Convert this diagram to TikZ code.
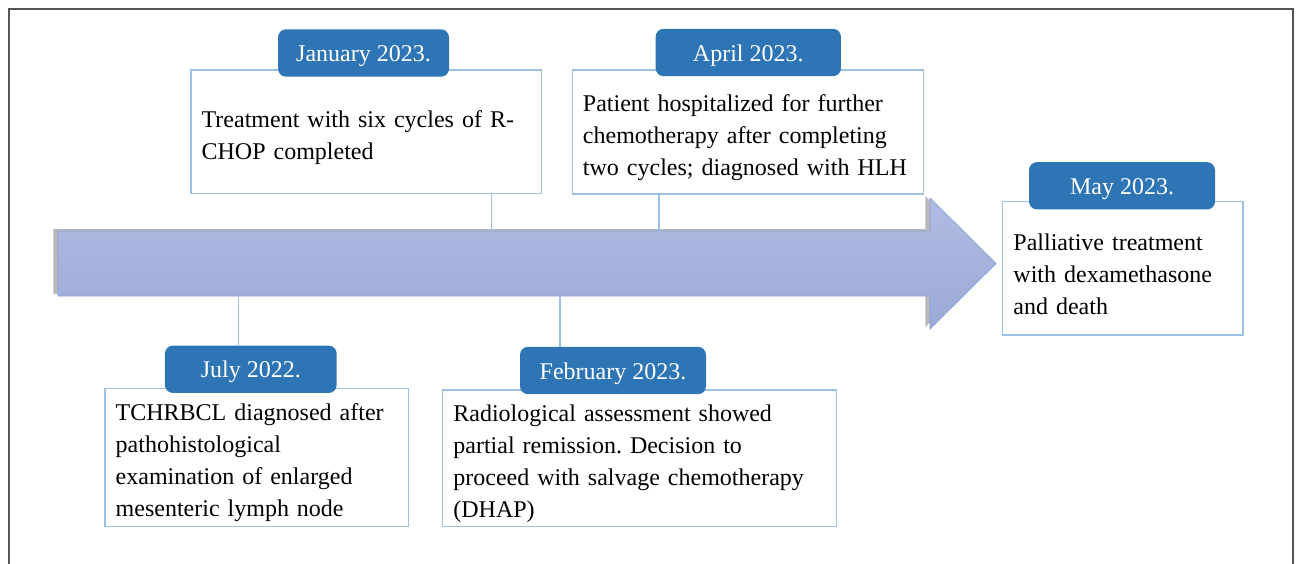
\documentclass[tikz,border=0pt]{standalone}
\usepackage{fontspec}
\setmainfont{Liberation Serif}
\usepackage{tikz}
\usetikzlibrary{shadows}
\frenchspacing

\begin{document}
\begin{tikzpicture}[x=0.75pt,y=0.75pt,yscale=-1,
  eventbox/.style={draw={rgb,255:red,155;green,194;blue,230}, line width=1pt, fill=white,
    align=left, inner xsep=8pt, inner ysep=2pt, font=\fontsize{18}{24}\selectfont\frenchspacing,
    execute at begin node={\rule{0pt}{21pt}}},
  datetag/.style={fill={rgb,255:red,46;green,117;blue,182}, rounded corners=6pt, text=white,
    minimum height=35.5pt, inner sep=0pt, text height=13pt, text depth=0pt,
    font=\fontsize{18}{24}\selectfont},
  link/.style={draw={rgb,255:red,155;green,194;blue,230}, line width=1pt}]
\useasboundingbox (0,0) rectangle (1296,564);

%Frame
\draw [color={rgb, 255:red, 85; green, 85; blue, 85 }, line width=1.2pt] (9,566) -- (9,9) -- (1293,9) -- (1293,566) ;

%Timeline arrow
\draw [draw={rgb, 255:red, 143; green, 160; blue, 214 }, line width=0.6pt,
  top color={rgb, 255:red, 177; green, 188; blue, 226 }, bottom color={rgb, 255:red, 155; green, 169; blue, 216 },
  drop shadow={shadow xshift=-3.5pt, shadow yshift=1.5pt, fill=black, opacity=0.28}]
  (58,231) -- (930,231) -- (930,198) -- (996,263.5) -- (930,329) -- (930,296) -- (58,296) -- cycle ;

%Pins on the arrow
\coordinate (janpin) at (491.7,231);
\coordinate (aprpin) at (659,231);
\coordinate (julpin) at (238.3,296);
\coordinate (febpin) at (560,296);

% Event boxes
\node [eventbox, text width=247pt, minimum height=92.5pt] (jan) at (366.3,131.7)
  {Treatment with six cycles of R-\\CHOP completed};
\node [eventbox, text width=247.25pt, minimum height=93pt] (apr) at (747.8,132)
  {Patient hospitalized for further\\chemotherapy after completing\\two cycles; diagnosed with HLH};
\node [eventbox, text width=164.2pt, minimum height=100pt] (may) at (1122.9,268.4)
  {Palliative treatment\\with dexamethasone\\and death};
\node [eventbox, text width=211.5pt, minimum height=103.8pt] (jul) at (256.7,457.5)
  {TCHRBCL diagnosed after\\pathohistological\\examination of enlarged\\mesenteric lymph node};
\node [eventbox, text width=279.5pt, minimum height=102.5pt] (feb) at (639.7,458.4)
  {Radiological assessment showed\\partial remission. Decision to\\proceed with salvage chemotherapy\\(DHAP)};

% Date tags
\node [datetag, minimum width=128.25pt] (jantag) at (363.5,53) {January 2023.};
\node [datetag, minimum width=139pt] (aprtag) at (748.3,52.5) {April 2023.};
\node [datetag, minimum width=139.5pt] (maytag) at (1122,185.8) {May 2023.};
\node [datetag, minimum width=128.8pt] (jultag) at (250.8,369.3) {July 2022.};
\node [datetag, minimum width=139.5pt] (febtag) at (613,370.5) {February 2023.};

% Connectors
\draw [link] (jan.south -| janpin) -- (janpin) ;
\draw [link] (apr.south -| aprpin) -- (aprpin) ;
\draw [link] (julpin) -- (julpin |- jultag.north) ;
\draw [link] (febpin) -- (febpin |- febtag.north) ;

\end{tikzpicture}
\end{document}
